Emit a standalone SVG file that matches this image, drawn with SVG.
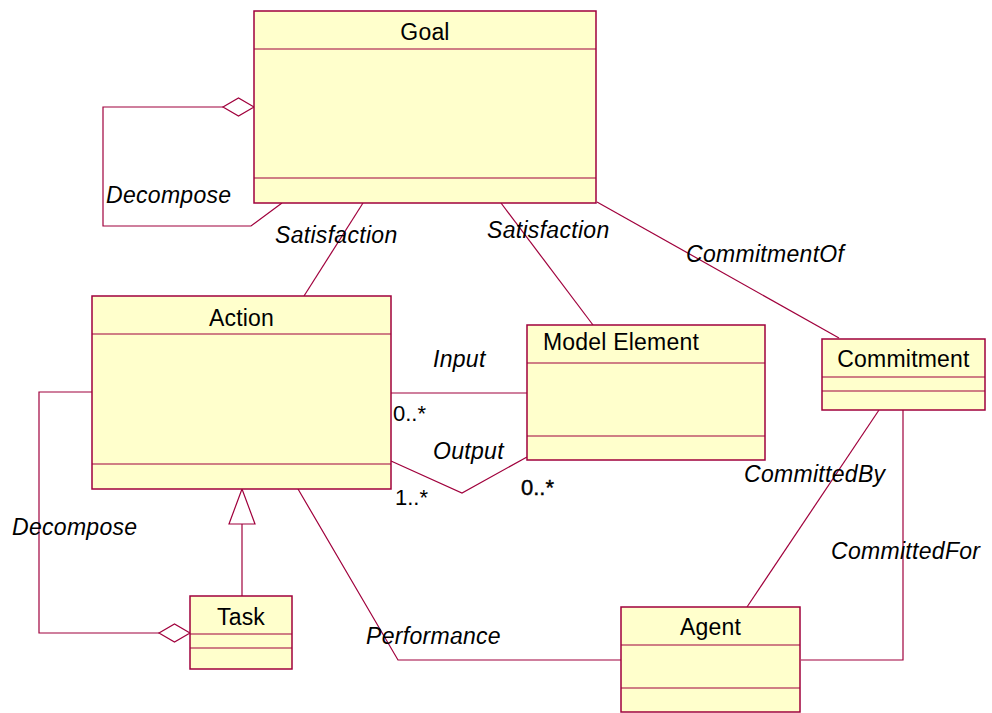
<svg xmlns="http://www.w3.org/2000/svg" width="992" height="713" viewBox="0 0 992 713">
  <style>
    .box { fill: #FFFFCC; stroke: #A0003C; stroke-width: 1.5; }
    .div { stroke: #A0003C; stroke-width: 1.2; fill: none; }
    .ln { stroke: #A0003C; stroke-width: 1.2; fill: none; }
    .name { font-family: "Liberation Sans", Arial, sans-serif; font-size: 23px; letter-spacing: 0.2px; fill: #000; }
    .lbl { font-family: "Liberation Sans", Arial, sans-serif; font-size: 23px; letter-spacing: 0.3px; font-style: italic; fill: #000; }
    .mult { font-family: "Liberation Sans", Arial, sans-serif; font-size: 22px; fill: #000; }
  </style>
  <rect width="992" height="713" fill="#FFFFFF"/>

  <g id="connectors">
    <!-- Goal self-aggregation: Decompose -->
    <polyline class="ln" points="223,107 103,107 103,226 251,226 282,203"/>
    <polygon class="ln" points="254,107 238.5,98 223,107 238.5,116" fill="#FFFFFF"/>
    <text class="lbl" x="106" y="203">Decompose</text>

    <!-- Goal - Action: Satisfaction -->
    <line class="ln" x1="363" y1="203" x2="304" y2="296"/>
    <text class="lbl" x="275" y="243">Satisfaction</text>

    <!-- Goal - Model Element: Satisfaction -->
    <line class="ln" x1="501" y1="203" x2="593" y2="325"/>
    <text class="lbl" x="487" y="238">Satisfaction</text>

    <!-- Goal - Commitment: CommitmentOf -->
    <line class="ln" x1="597" y1="202" x2="839" y2="338"/>
    <text class="lbl" x="686" y="262">CommitmentOf</text>

    <!-- Action - Model Element: Input -->
    <line class="ln" x1="391" y1="393" x2="527" y2="393"/>
    <text class="lbl" x="433" y="367">Input</text>
    <text class="mult" x="393" y="421">0..*</text>

    <!-- Action - Model Element: Output -->
    <polyline class="ln" points="391,461 462,493 527,457"/>
    <text class="lbl" x="433" y="459">Output</text>
    <text class="mult" x="395" y="505">1..*</text>
    <text class="mult" x="521" y="495" stroke="#000" stroke-width="0.4">0..*</text>

    <!-- Action self-aggregation via Task: Decompose -->
    <polyline class="ln" points="92,392 39,392 39,633 159,633"/>
    <polygon class="ln" points="190,633 174.5,624 159,633 174.5,642" fill="#FFFFFF"/>
    <text class="lbl" x="12" y="535">Decompose</text>

    <!-- Task generalizes Action -->
    <line class="ln" x1="242" y1="524" x2="242" y2="596"/>
    <polygon class="ln" points="242,489 229,524 255,524" fill="#FFFFFF"/>

    <!-- Action - Agent: Performance -->
    <polyline class="ln" points="298,489 398,660 621,660"/>
    <text class="lbl" x="366" y="644">Performance</text>

    <!-- Commitment - Agent: CommittedBy -->
    <line class="ln" x1="879" y1="410" x2="747" y2="607"/>
    <text class="lbl" x="744" y="482">CommittedBy</text>

    <!-- Commitment - Agent: CommittedFor -->
    <polyline class="ln" points="903,410 903,660 801,660"/>
    <text class="lbl" x="831" y="559">CommittedFor</text>
  </g>

  <g id="goal">
    <rect class="box" x="254" y="11" width="342" height="192"/>
    <line class="div" x1="254" y1="49" x2="596" y2="49"/>
    <line class="div" x1="254" y1="178" x2="596" y2="178"/>
    <text class="name" x="425" y="40" text-anchor="middle">Goal</text>
  </g>

  <g id="action">
    <rect class="box" x="92" y="296" width="299" height="193"/>
    <line class="div" x1="92" y1="334" x2="391" y2="334"/>
    <line class="div" x1="92" y1="464" x2="391" y2="464"/>
    <text class="name" x="241.5" y="326" text-anchor="middle">Action</text>
  </g>

  <g id="model-element">
    <rect class="box" x="527" y="325" width="238" height="135"/>
    <line class="div" x1="527" y1="363" x2="765" y2="363"/>
    <line class="div" x1="527" y1="436" x2="765" y2="436"/>
    <text class="name" x="543" y="350">Model Element</text>
  </g>

  <g id="commitment">
    <rect class="box" x="822" y="339" width="163" height="71"/>
    <line class="div" x1="822" y1="377" x2="985" y2="377"/>
    <line class="div" x1="822" y1="391" x2="985" y2="391"/>
    <text class="name" x="903.5" y="367" text-anchor="middle">Commitment</text>
  </g>

  <g id="task">
    <rect class="box" x="190" y="596" width="102" height="73"/>
    <line class="div" x1="190" y1="634" x2="292" y2="634"/>
    <line class="div" x1="190" y1="648" x2="292" y2="648"/>
    <text class="name" x="241" y="625" text-anchor="middle">Task</text>
  </g>

  <g id="agent">
    <rect class="box" x="621" y="607" width="179" height="105"/>
    <line class="div" x1="621" y1="645" x2="800" y2="645"/>
    <line class="div" x1="621" y1="688" x2="800" y2="688"/>
    <text class="name" x="710.5" y="635" text-anchor="middle">Agent</text>
  </g>
</svg>
